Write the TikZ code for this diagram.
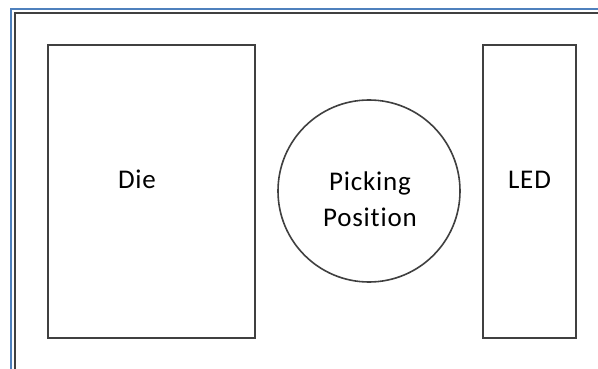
\documentclass[tikz,border=0pt]{standalone}
\usepackage{fontspec}
\setmainfont{Carlito}[Ligatures={NoCommon}, LetterSpace=3]
\definecolor{frameblue}{HTML}{4F81BD}
\definecolor{linegray}{HTML}{404040}
\begin{document}
\begin{tikzpicture}[x=1pt,y=-1pt,
  shapebox/.style={draw=linegray, line width=1.6pt, inner sep=0pt, outer sep=0pt},
  lbl/.style={font=\fontsize{27}{36}\selectfont, inner sep=0pt, anchor=base, align=center, text=black}]
\useasboundingbox (0,0) rectangle (598,369);
\fill[white] (0,0) rectangle (598,369);
% page frame
\coordinate (fb1) at (11,369);
\coordinate (fb2) at (11,9);
\coordinate (fb3) at (598,9);
\coordinate (fg1) at (15,369);
\coordinate (fg2) at (15,13);
\coordinate (fg3) at (598,13);
\draw[frameblue, line width=2pt] (fb1) -- (fb2) -- (fb3);
\draw[linegray, line width=1.6pt] (fg1) -- (fg2) -- (fg3);
% shapes
\node (die) [shapebox, rectangle, minimum width=207pt, minimum height=293pt] at (151.5,191.5) {};
\node (pick) [shapebox, circle, minimum size=182pt] at (369,191) {};
\node (led) [shapebox, rectangle, minimum width=93pt, minimum height=293pt] at (529.5,191.5) {};
% labels
\node (dielbl) [lbl] at (137,189) {Die};
\node (picklbl) [lbl] at (370,226) {Picking\\Position};
\node (ledlbl) [lbl] at (529.5,189) {LED};
\end{tikzpicture}
\end{document}
